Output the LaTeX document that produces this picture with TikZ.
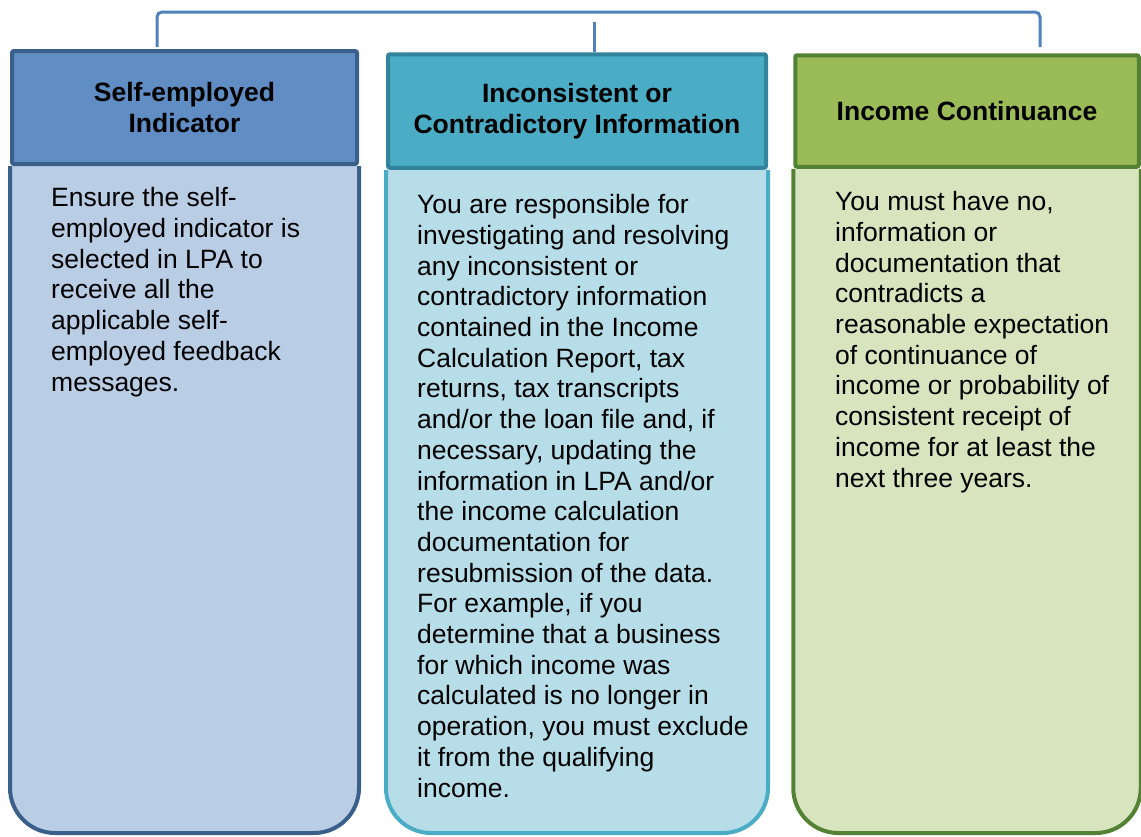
\documentclass[tikz,border=0pt]{standalone}
\usepackage{fontspec}
\setmainfont{Liberation Sans}
\usepackage{tikz}
\usetikzlibrary{positioning,backgrounds}

\definecolor{linkblue}{RGB}{79,129,189}
\definecolor{selfhead}{RGB}{95,141,196}
\definecolor{selfline}{RGB}{58,95,139}
\definecolor{selfbody}{RGB}{185,205,229}
\definecolor{inconhead}{RGB}{75,172,198}
\definecolor{inconline}{RGB}{49,132,155}
\definecolor{inconbody}{RGB}{183,221,232}
\definecolor{conthead}{RGB}{155,187,89}
\definecolor{contline}{RGB}{84,130,53}
\definecolor{contbody}{RGB}{215,228,189}

\tikzset{
  headbox/.style={draw, line width=4pt, rounded corners=2pt, inner sep=0pt, align=center,
    font=\bfseries\fontsize{26.5}{30.7}\selectfont},
  bodybox/.style={line width=4pt, rounded corners=45pt},
  bodytext/.style={anchor=base west, inner sep=0pt, align=left,
    font=\fontsize{26.5}{30.7}\selectfont},
  link/.style={line width=3pt, draw=linkblue, rounded corners=5pt}
}

\begin{document}
\begin{tikzpicture}[x=1pt,y=-1pt]
  \useasboundingbox (0,0) rectangle (1141,836);

  %headers
  \node[headbox, fill=selfhead, draw=selfline, minimum width=345pt, minimum height=113pt]
    (self head) at (184.5,107.5) {Self-employed\\Indicator};
  \node[headbox, fill=inconhead, draw=inconline, minimum width=378pt, minimum height=113.5pt]
    (incon head) at (577,111) {Inconsistent or\\Contradictory Information};
  \node[headbox, fill=conthead, draw=contline, minimum width=343.5pt, minimum height=111.5pt]
    (cont head) at (967,111) {Income Continuance};

  %bodies
  \coordinate (bottom) at (0,833);
  \begin{scope}[on background layer]
    \draw[bodybox, draw=selfline, fill=selfbody] (self head.south west) -- (self head.south west |- bottom)
      -- (self head.south east |- bottom) -- (self head.south east);
    \draw[bodybox, draw=inconhead, fill=inconbody] (incon head.south west) -- (incon head.south west |- bottom)
      -- (incon head.south east |- bottom) -- (incon head.south east);
    \draw[bodybox, draw=contline, fill=contbody] (cont head.south west) -- (cont head.south west |- bottom)
      -- (cont head.south east |- bottom) -- (cont head.south east);

    %connector
    \coordinate (bus) at (0,12);
    \coordinate (self top) at (157,47);
    \coordinate (cont top) at (1040,47);
    \coordinate (incon top) at (594,22);
    \draw[link] (self top) -- (self top |- bus) -- (cont top |- bus) -- (cont top);
    \draw[link] (incon top) -- (incon top |- incon head.north);
  \end{scope}

  %texts (placed by the baseline of their last line)
  \node[bodytext] (self text) at (51,391) {Ensure the self-\\employed indicator is\\selected in LPA to\\receive all the\\applicable self-\\employed feedback\\messages.};
  \node[bodytext] (incon text) at (417,797) {You are responsible for\\investigating and resolving\\any inconsistent or\\contradictory information\\contained in the Income\\Calculation Report, tax\\returns, tax transcripts\\and/or the loan file and, if\\necessary, updating the\\information in LPA and/or\\the income calculation\\documentation for\\resubmission of the data.\\For example, if you\\determine that a business\\for which income was\\calculated is no longer in\\operation, you must exclude\\it from the qualifying\\income.};
  \node[bodytext] (cont text) at (835,487) {You must have no,\\information or\\documentation that\\contradicts a\\reasonable expectation\\of continuance of\\income or probability of\\consistent receipt of\\income for at least the\\next three years.};

\end{tikzpicture}
\end{document}
